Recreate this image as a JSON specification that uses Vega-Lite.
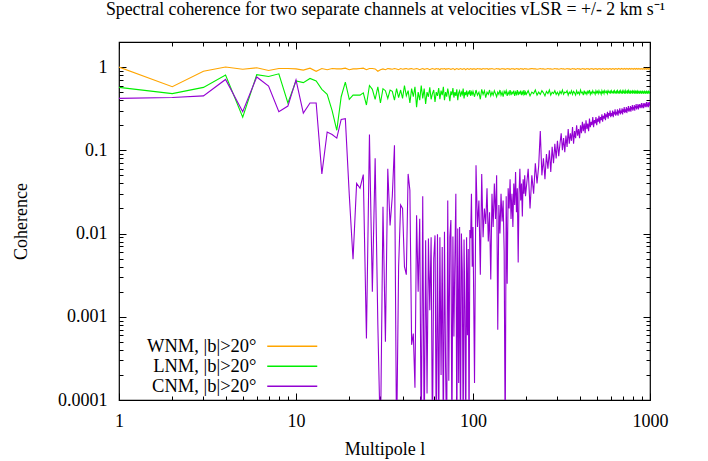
{
"$schema":"https://vega.github.io/schema/vega-lite/v6.json",
"width":531,"height":358,
"autosize":{"type":"none"},
"padding":{"left":119,"top":42,"right":58,"bottom":61},
"background":"white",
"title":{"text":"Spectral coherence for two separate channels at velocities vLSR = +/- 2 km s⁻¹","font":"Liberation Serif","fontSize":17.8,"fontWeight":"normal","color":"black","anchor":"middle","offset":14,"dx":1},
"config":{"view":{"stroke":"black","strokeWidth":1.2},"font":"Liberation Serif"},
"data":{"values":[
{"l":1,"W":1.0,"L":0.57,"C":0.42},
{"l":2,"W":0.58,"L":0.48,"C":0.43},
{"l":3,"W":0.89,"L":0.57,"C":0.45},
{"l":4,"W":1.0,"L":0.8,"C":0.71},
{"l":5,"W":0.94,"L":0.25,"C":0.29},
{"l":6,"W":0.98,"L":0.81,"C":0.76},
{"l":7,"W":0.91,"L":0.77,"C":0.59},
{"l":8,"W":0.96,"L":0.83,"C":0.29},
{"l":9,"W":0.96,"L":0.37,"C":0.34},
{"l":10,"W":0.95,"L":0.68,"C":0.7},
{"l":11,"W":0.92,"L":0.65,"C":0.28},
{"l":12,"W":0.97,"L":0.73,"C":0.37},
{"l":13,"W":0.89,"L":0.68,"C":0.37},
{"l":14,"W":0.96,"L":0.54,"C":0.052},
{"l":15,"W":0.93,"L":0.47,"C":0.166},
{"l":16,"W":0.96,"L":0.3,"C":0.155},
{"l":17,"W":0.95,"L":0.174,"C":0.14},
{"l":18,"W":0.95,"L":0.44,"C":0.235},
{"l":19,"W":0.97,"L":0.66,"C":0.24},
{"l":20,"W":0.93,"L":0.41,"C":0.029},
{"l":21,"W":0.95,"L":0.46,"C":0.0049},
{"l":22,"W":0.95,"L":0.46,"C":0.04},
{"l":23,"W":0.96,"L":0.46,"C":0.035},
{"l":24,"W":0.97,"L":0.49,"C":0.051},
{"l":25,"W":0.93,"L":0.35,"C":0.00055},
{"l":26,"W":0.96,"L":0.6,"C":0.155},
{"l":27,"W":0.96,"L":0.54,"C":0.002},
{"l":28,"W":0.95,"L":0.41,"C":0.08},
{"l":29,"W":0.89,"L":0.58,"C":0.0008},
{"l":30,"W":0.93,"L":0.37,"C":0.00003},
{"l":31,"W":0.95,"L":0.55,"C":0.021},
{"l":32,"W":0.93,"L":0.52,"C":0.0005},
{"l":33,"W":0.96,"L":0.42,"C":0.06},
{"l":34,"W":0.95,"L":0.53,"C":0.0125},
{"l":35,"W":0.94,"L":0.51,"C":0.028},
{"l":36,"W":0.96,"L":0.4,"C":0.115},
{"l":37,"W":0.95,"L":0.55,"C":0.00003},
{"l":38,"W":0.93,"L":0.43,"C":0.004},
{"l":39,"W":0.96,"L":0.53,"C":0.022},
{"l":40,"W":0.94,"L":0.42,"C":0.02},
{"l":41,"W":0.95,"L":0.6,"C":0.004},
{"l":42,"W":0.96,"L":0.45,"C":0.0032},
{"l":43,"W":0.94,"L":0.52,"C":0.052},
{"l":44,"W":0.95,"L":0.37,"C":0.033},
{"l":45,"W":0.96,"L":0.55,"C":0.00046},
{"l":46,"W":0.94,"L":0.44,"C":0.00063},
{"l":47,"W":0.95,"L":0.58,"C":0.00014},
{"l":48,"W":0.96,"L":0.33,"C":0.0166},
{"l":49,"W":0.95,"L":0.5,"C":0.002},
{"l":50,"W":0.93,"L":0.4,"C":0.015},
{"l":51,"W":0.95,"L":0.6,"C":0.00003},
{"l":52,"W":0.96,"L":0.42,"C":0.028},
{"l":53,"W":0.94,"L":0.55,"C":0.00003},
{"l":54,"W":0.95,"L":0.36,"C":0.0083},
{"l":55,"W":0.96,"L":0.5,"C":0.00012},
{"l":56,"W":0.95,"L":0.44,"C":0.0087},
{"l":57,"W":0.93,"L":0.57,"C":0.0012},
{"l":58,"W":0.95,"L":0.41,"C":0.009},
{"l":59,"W":0.96,"L":0.48,"C":0.00003},
{"l":60,"W":0.95,"L":0.53,"C":0.005},
{"l":61,"W":0.94,"L":0.38,"C":0.0095},
{"l":62,"W":0.96,"L":0.5,"C":0.00003},
{"l":63,"W":0.95,"L":0.45,"C":0.0098},
{"l":64,"W":0.95,"L":0.56,"C":0.00003},
{"l":65,"W":0.93,"L":0.41,"C":0.009},
{"l":66,"W":0.96,"L":0.52,"C":0.0002},
{"l":67,"W":0.95,"L":0.46,"C":0.0069},
{"l":68,"W":0.95,"L":0.58,"C":0.00003},
{"l":69,"W":0.96,"L":0.4,"C":0.0105},
{"l":70,"W":0.94,"L":0.5,"C":0.00025},
{"l":71,"W":0.95,"L":0.44,"C":0.00003},
{"l":72,"W":0.95,"L":0.55,"C":0.025},
{"l":73,"W":0.96,"L":0.47,"C":0.00017},
{"l":74,"W":0.95,"L":0.39,"C":0.009},
{"l":75,"W":0.94,"L":0.51,"C":0.0145},
{"l":76,"W":0.95,"L":0.46,"C":0.00003},
{"l":77,"W":0.96,"L":0.56,"C":0.0092},
{"l":78,"W":0.95,"L":0.43,"C":0.00058},
{"l":79,"W":0.93,"L":0.5,"C":0.005},
{"l":80,"W":0.95,"L":0.45,"C":0.03},
{"l":81,"W":0.96,"L":0.54,"C":0.00003},
{"l":82,"W":0.95,"L":0.4,"C":0.0115},
{"l":83,"W":0.94,"L":0.49,"C":0.00016},
{"l":84,"W":0.95,"L":0.52,"C":0.012},
{"l":85,"W":0.96,"L":0.44,"C":0.00003},
{"l":86,"W":0.95,"L":0.5,"C":0.01},
{"l":87,"W":0.94,"L":0.47,"C":0.0035},
{"l":88,"W":0.95,"L":0.55,"C":0.00003},
{"l":89,"W":0.96,"L":0.42,"C":0.0085},
{"l":90,"W":0.95,"L":0.5,"C":0.0012},
{"l":91,"W":0.93,"L":0.46,"C":0.00003},
{"l":92,"W":0.95,"L":0.52,"C":0.009},
{"l":93,"W":0.96,"L":0.44,"C":0.0006},
{"l":94,"W":0.95,"L":0.5,"C":0.0065},
{"l":95,"W":0.94,"L":0.48,"C":0.00003},
{"l":96,"W":0.95,"L":0.53,"C":0.011},
{"l":97,"W":0.96,"L":0.45,"C":0.0088},
{"l":98,"W":0.95,"L":0.5,"C":0.03},
{"l":99,"W":0.94,"L":0.47,"C":0.004},
{"l":100,"W":0.95,"L":0.51,"C":0.012},
{"l":102,"W":0.95,"L":0.44,"C":0.00016},
{"l":104,"W":0.94,"L":0.53,"C":0.066},
{"l":106,"W":0.96,"L":0.46,"C":0.012},
{"l":108,"W":0.95,"L":0.5,"C":0.025},
{"l":110,"W":0.95,"L":0.41,"C":0.0032},
{"l":112,"W":0.94,"L":0.54,"C":0.052},
{"l":114,"W":0.96,"L":0.47,"C":0.009},
{"l":116,"W":0.95,"L":0.52,"C":0.02},
{"l":118,"W":0.95,"L":0.43,"C":0.013},
{"l":120,"W":0.96,"L":0.5,"C":0.035},
{"l":122,"W":0.94,"L":0.47,"C":0.008},
{"l":124,"W":0.95,"L":0.53,"C":0.018},
{"l":126,"W":0.95,"L":0.45,"C":0.0028},
{"l":128,"W":0.96,"L":0.5,"C":0.03},
{"l":130,"W":0.95,"L":0.46,"C":0.012},
{"l":132,"W":0.94,"L":0.52,"C":0.04},
{"l":134,"W":0.95,"L":0.48,"C":0.015},
{"l":136,"W":0.96,"L":0.44,"C":0.05},
{"l":138,"W":0.95,"L":0.5,"C":0.0007},
{"l":140,"W":0.95,"L":0.47,"C":0.022},
{"l":142,"W":0.94,"L":0.53,"C":0.01},
{"l":144,"W":0.95,"L":0.46,"C":0.03},
{"l":146,"W":0.96,"L":0.5,"C":0.014},
{"l":148,"W":0.95,"L":0.44,"C":0.025},
{"l":150,"W":0.95,"L":0.51,"C":0.006},
{"l":152,"W":0.94,"L":0.48,"C":0.00003},
{"l":154,"W":0.95,"L":0.52,"C":0.028},
{"l":156,"W":0.96,"L":0.45,"C":0.0025},
{"l":158,"W":0.95,"L":0.5,"C":0.035},
{"l":160,"W":0.95,"L":0.47,"C":0.02},
{"l":162,"W":0.94,"L":0.53,"C":0.045},
{"l":164,"W":0.95,"L":0.46,"C":0.015},
{"l":166,"W":0.96,"L":0.5,"C":0.03},
{"l":168,"W":0.95,"L":0.48,"C":0.012},
{"l":170,"W":0.95,"L":0.52,"C":0.04},
{"l":172,"W":0.94,"L":0.45,"C":0.022},
{"l":174,"W":0.95,"L":0.5,"C":0.055},
{"l":176,"W":0.96,"L":0.47,"C":0.018},
{"l":178,"W":0.95,"L":0.53,"C":0.035},
{"l":180,"W":0.95,"L":0.46,"C":0.0045},
{"l":182,"W":0.94,"L":0.5,"C":0.03},
{"l":184,"W":0.95,"L":0.48,"C":0.06},
{"l":186,"W":0.96,"L":0.52,"C":0.025},
{"l":188,"W":0.95,"L":0.46,"C":0.04},
{"l":190,"W":0.95,"L":0.5,"C":0.016},
{"l":192,"W":0.94,"L":0.47,"C":0.045},
{"l":194,"W":0.95,"L":0.53,"C":0.03},
{"l":196,"W":0.96,"L":0.46,"C":0.05},
{"l":198,"W":0.95,"L":0.5,"C":0.028},
{"l":200,"W":0.95,"L":0.47,"C":0.035},
{"l":205,"W":0.94,"L":0.52,"C":0.06},
{"l":210,"W":0.95,"L":0.45,"C":0.02},
{"l":215,"W":0.96,"L":0.5,"C":0.05},
{"l":220,"W":0.95,"L":0.48,"C":0.03},
{"l":225,"W":0.95,"L":0.53,"C":0.07},
{"l":230,"W":0.94,"L":0.46,"C":0.04},
{"l":235,"W":0.95,"L":0.5,"C":0.065},
{"l":240,"W":0.96,"L":0.47,"C":0.17},
{"l":245,"W":0.95,"L":0.52,"C":0.05},
{"l":250,"W":0.95,"L":0.49,"C":0.08},
{"l":255,"W":0.94,"L":0.45,"C":0.045},
{"l":260,"W":0.95,"L":0.51,"C":0.09},
{"l":265,"W":0.96,"L":0.48,"C":0.06},
{"l":270,"W":0.95,"L":0.53,"C":0.1},
{"l":275,"W":0.95,"L":0.46,"C":0.055},
{"l":280,"W":0.94,"L":0.5,"C":0.11},
{"l":285,"W":0.95,"L":0.48,"C":0.07},
{"l":290,"W":0.96,"L":0.52,"C":0.12},
{"l":295,"W":0.95,"L":0.47,"C":0.08},
{"l":300,"W":0.95,"L":0.5,"C":0.13},
{"l":305,"W":0.94,"L":0.46,"C":0.085},
{"l":310,"W":0.95,"L":0.51,"C":0.12},
{"l":315,"W":0.96,"L":0.48,"C":0.16},
{"l":320,"W":0.95,"L":0.53,"C":0.1},
{"l":325,"W":0.95,"L":0.47,"C":0.14},
{"l":330,"W":0.94,"L":0.5,"C":0.095},
{"l":335,"W":0.95,"L":0.49,"C":0.15},
{"l":340,"W":0.96,"L":0.52,"C":0.11},
{"l":345,"W":0.95,"L":0.46,"C":0.18},
{"l":350,"W":0.95,"L":0.5,"C":0.12},
{"l":355,"W":0.94,"L":0.48,"C":0.16},
{"l":360,"W":0.95,"L":0.52,"C":0.13},
{"l":365,"W":0.96,"L":0.47,"C":0.19},
{"l":370,"W":0.95,"L":0.51,"C":0.12},
{"l":375,"W":0.95,"L":0.49,"C":0.17},
{"l":380,"W":0.94,"L":0.46,"C":0.14},
{"l":385,"W":0.95,"L":0.52,"C":0.2},
{"l":390,"W":0.96,"L":0.48,"C":0.15},
{"l":395,"W":0.95,"L":0.5,"C":0.18},
{"l":400,"W":0.95,"L":0.47,"C":0.14},
{"l":405,"W":0.94,"L":0.53,"C":0.2},
{"l":410,"W":0.95,"L":0.49,"C":0.16},
{"l":415,"W":0.96,"L":0.5,"C":0.22},
{"l":420,"W":0.95,"L":0.46,"C":0.17},
{"l":425,"W":0.95,"L":0.52,"C":0.21},
{"l":430,"W":0.94,"L":0.48,"C":0.16},
{"l":435,"W":0.95,"L":0.5,"C":0.23},
{"l":440,"W":0.96,"L":0.47,"C":0.18},
{"l":445,"W":0.95,"L":0.51,"C":0.21},
{"l":450,"W":0.95,"L":0.49,"C":0.17},
{"l":455,"W":0.94,"L":0.53,"C":0.24},
{"l":460,"W":0.95,"L":0.47,"C":0.19},
{"l":465,"W":0.96,"L":0.5,"C":0.22},
{"l":470,"W":0.95,"L":0.48,"C":0.2},
{"l":475,"W":0.95,"L":0.52,"C":0.25},
{"l":480,"W":0.94,"L":0.49,"C":0.19},
{"l":485,"W":0.95,"L":0.5,"C":0.23},
{"l":490,"W":0.96,"L":0.47,"C":0.21},
{"l":495,"W":0.95,"L":0.52,"C":0.25},
{"l":500,"W":0.95,"L":0.49,"C":0.2},
{"l":505,"W":0.94,"L":0.51,"C":0.24},
{"l":510,"W":0.95,"L":0.48,"C":0.22},
{"l":515,"W":0.96,"L":0.52,"C":0.26},
{"l":520,"W":0.95,"L":0.49,"C":0.21},
{"l":525,"W":0.95,"L":0.5,"C":0.25},
{"l":530,"W":0.94,"L":0.47,"C":0.23},
{"l":535,"W":0.95,"L":0.52,"C":0.27},
{"l":540,"W":0.96,"L":0.49,"C":0.22},
{"l":545,"W":0.95,"L":0.51,"C":0.26},
{"l":550,"W":0.95,"L":0.48,"C":0.24},
{"l":555,"W":0.94,"L":0.52,"C":0.28},
{"l":560,"W":0.95,"L":0.5,"C":0.23},
{"l":565,"W":0.96,"L":0.49,"C":0.27},
{"l":570,"W":0.95,"L":0.51,"C":0.25},
{"l":575,"W":0.95,"L":0.48,"C":0.29},
{"l":580,"W":0.94,"L":0.52,"C":0.24},
{"l":585,"W":0.95,"L":0.5,"C":0.28},
{"l":590,"W":0.96,"L":0.49,"C":0.26},
{"l":595,"W":0.95,"L":0.51,"C":0.3},
{"l":600,"W":0.95,"L":0.48,"C":0.25},
{"l":605,"W":0.94,"L":0.52,"C":0.28},
{"l":610,"W":0.95,"L":0.5,"C":0.26},
{"l":615,"W":0.96,"L":0.49,"C":0.3},
{"l":620,"W":0.95,"L":0.51,"C":0.25},
{"l":625,"W":0.95,"L":0.48,"C":0.29},
{"l":630,"W":0.94,"L":0.52,"C":0.27},
{"l":635,"W":0.95,"L":0.5,"C":0.31},
{"l":640,"W":0.96,"L":0.49,"C":0.26},
{"l":645,"W":0.95,"L":0.51,"C":0.29},
{"l":650,"W":0.95,"L":0.48,"C":0.27},
{"l":655,"W":0.94,"L":0.52,"C":0.31},
{"l":660,"W":0.95,"L":0.5,"C":0.26},
{"l":665,"W":0.96,"L":0.49,"C":0.3},
{"l":670,"W":0.95,"L":0.51,"C":0.28},
{"l":675,"W":0.95,"L":0.48,"C":0.32},
{"l":680,"W":0.94,"L":0.52,"C":0.27},
{"l":685,"W":0.95,"L":0.5,"C":0.3},
{"l":690,"W":0.96,"L":0.49,"C":0.28},
{"l":695,"W":0.95,"L":0.51,"C":0.32},
{"l":700,"W":0.95,"L":0.48,"C":0.27},
{"l":705,"W":0.94,"L":0.52,"C":0.31},
{"l":710,"W":0.95,"L":0.5,"C":0.29},
{"l":715,"W":0.96,"L":0.49,"C":0.33},
{"l":720,"W":0.95,"L":0.51,"C":0.28},
{"l":725,"W":0.95,"L":0.48,"C":0.31},
{"l":730,"W":0.94,"L":0.52,"C":0.29},
{"l":735,"W":0.95,"L":0.5,"C":0.33},
{"l":740,"W":0.96,"L":0.49,"C":0.28},
{"l":745,"W":0.95,"L":0.51,"C":0.32},
{"l":750,"W":0.95,"L":0.48,"C":0.3},
{"l":755,"W":0.94,"L":0.52,"C":0.34},
{"l":760,"W":0.95,"L":0.5,"C":0.29},
{"l":765,"W":0.96,"L":0.49,"C":0.32},
{"l":770,"W":0.95,"L":0.51,"C":0.3},
{"l":775,"W":0.95,"L":0.48,"C":0.34},
{"l":780,"W":0.94,"L":0.52,"C":0.29},
{"l":785,"W":0.95,"L":0.5,"C":0.33},
{"l":790,"W":0.96,"L":0.49,"C":0.31},
{"l":795,"W":0.95,"L":0.51,"C":0.35},
{"l":800,"W":0.95,"L":0.48,"C":0.3},
{"l":805,"W":0.94,"L":0.52,"C":0.33},
{"l":810,"W":0.95,"L":0.5,"C":0.31},
{"l":815,"W":0.96,"L":0.49,"C":0.35},
{"l":820,"W":0.95,"L":0.51,"C":0.3},
{"l":825,"W":0.95,"L":0.48,"C":0.34},
{"l":830,"W":0.94,"L":0.52,"C":0.32},
{"l":835,"W":0.95,"L":0.5,"C":0.36},
{"l":840,"W":0.96,"L":0.49,"C":0.31},
{"l":845,"W":0.95,"L":0.51,"C":0.34},
{"l":850,"W":0.95,"L":0.48,"C":0.32},
{"l":855,"W":0.94,"L":0.52,"C":0.36},
{"l":860,"W":0.95,"L":0.5,"C":0.31},
{"l":865,"W":0.96,"L":0.49,"C":0.35},
{"l":870,"W":0.95,"L":0.51,"C":0.33},
{"l":875,"W":0.95,"L":0.48,"C":0.36},
{"l":880,"W":0.94,"L":0.52,"C":0.32},
{"l":885,"W":0.95,"L":0.5,"C":0.35},
{"l":890,"W":0.96,"L":0.49,"C":0.33},
{"l":895,"W":0.95,"L":0.51,"C":0.37},
{"l":900,"W":0.95,"L":0.48,"C":0.32},
{"l":905,"W":0.94,"L":0.52,"C":0.35},
{"l":910,"W":0.95,"L":0.5,"C":0.33},
{"l":915,"W":0.96,"L":0.49,"C":0.37},
{"l":920,"W":0.95,"L":0.51,"C":0.32},
{"l":925,"W":0.95,"L":0.48,"C":0.36},
{"l":930,"W":0.94,"L":0.52,"C":0.34},
{"l":935,"W":0.95,"L":0.5,"C":0.37},
{"l":940,"W":0.96,"L":0.49,"C":0.33},
{"l":945,"W":0.95,"L":0.51,"C":0.36},
{"l":950,"W":0.95,"L":0.48,"C":0.34},
{"l":955,"W":0.94,"L":0.52,"C":0.38},
{"l":960,"W":0.95,"L":0.5,"C":0.33},
{"l":965,"W":0.96,"L":0.49,"C":0.36},
{"l":970,"W":0.95,"L":0.51,"C":0.34},
{"l":975,"W":0.95,"L":0.48,"C":0.38},
{"l":980,"W":0.94,"L":0.52,"C":0.33},
{"l":985,"W":0.95,"L":0.5,"C":0.37},
{"l":990,"W":0.96,"L":0.49,"C":0.35},
{"l":995,"W":0.95,"L":0.51,"C":0.38},
{"l":1000,"W":0.95,"L":0.48,"C":0.34}
]},
"transform":[{"fold":["W","L","C"],"as":["s","v"]}],
"resolve":{"axis":{"x":"independent","y":"independent"}},
"layer":[
{"mark":{"type":"line","strokeWidth":1.1,"clip":true},
"encoding":{
"x":{"field":"l","type":"quantitative","scale":{"type":"log","domain":[1,1000],"nice":false},
"axis":{"orient":"bottom","values":[1,2,3,4,5,6,7,8,9,10,20,30,40,50,60,70,80,90,100,200,300,400,500,600,700,800,900,1000],"format":"~g","labelExpr":"abs(log(datum.value)/LN10 - round(log(datum.value)/LN10)) < 0.01 ? datum.label : ''","labelFont":"Liberation Serif","labelFontSize":18,"labelColor":"black","labelPadding":19,"labelOverlap":false,"labelFlush":false,"labelBound":false,"domain":false,"grid":false,"tickColor":"black","tickWidth":1,"tickSize":{"condition":{"test":"abs(log(datum.value)/LN10 - round(log(datum.value)/LN10)) < 0.01","value":-7},"value":-4},"title":"Multipole l","titleFont":"Liberation Serif","titleFontSize":18,"titleFontWeight":"normal","titleColor":"black","titlePadding":7}},
"y":{"field":"v","type":"quantitative","scale":{"type":"log","domain":[0.0001,2],"nice":false},
"axis":{"orient":"left","values":[0.0001,0.0002,0.0003,0.0004,0.0005,0.0006,0.0007,0.0008,0.0009,0.001,0.002,0.003,0.004,0.005,0.006,0.007,0.008,0.009,0.01,0.02,0.03,0.04,0.05,0.06,0.07,0.08,0.09,0.1,0.2,0.3,0.4,0.5,0.6,0.7,0.8,0.9,1,2],"format":"~g","labelExpr":"abs(log(datum.value)/LN10 - round(log(datum.value)/LN10)) < 0.01 ? datum.label : ''","labelFont":"Liberation Serif","labelFontSize":18,"labelColor":"black","labelPadding":19,"labelOverlap":false,"labelFlush":false,"labelBound":false,"domain":false,"grid":false,"tickColor":"black","tickWidth":1,"tickSize":{"condition":{"test":"abs(log(datum.value)/LN10 - round(log(datum.value)/LN10)) < 0.01","value":-7},"value":-4},"title":"Coherence","titleFont":"Liberation Serif","titleFontSize":18,"titleFontWeight":"normal","titleColor":"black","titlePadding":27}},
"color":{"field":"s","type":"nominal","scale":{"domain":["W","L","C"],"range":["#ffa500","#00ee00","#9400d3"]},
"legend":{"orient":"none","legendX":164,"legendY":295,"title":null,"symbolType":"M-5,0H5","symbolSize":100,"symbolStrokeWidth":1.5,"labelAlign":"right","labelOffset":-45,"labelFont":"Liberation Serif","labelFontSize":18.5,"labelColor":"black","labelLimit":300,"rowPadding":1,"padding":0,"labelExpr":"datum.value == 'W' ? 'WNM, |b|>20°' : datum.value == 'L' ? 'LNM, |b|>20°' : 'CNM, |b|>20°'"}}
}},
{"mark":{"type":"line","opacity":0,"clip":true},
"encoding":{
"x":{"field":"l","type":"quantitative","axis":{"orient":"top","values":[1,2,3,4,5,6,7,8,9,10,20,30,40,50,60,70,80,90,100,200,300,400,500,600,700,800,900,1000],"labels":false,"domain":false,"grid":false,"tickColor":"black","tickWidth":1,"tickSize":{"condition":{"test":"abs(log(datum.value)/LN10 - round(log(datum.value)/LN10)) < 0.01","value":-7},"value":-4},"title":null}},
"y":{"field":"v","type":"quantitative","axis":{"orient":"right","values":[0.0001,0.0002,0.0003,0.0004,0.0005,0.0006,0.0007,0.0008,0.0009,0.001,0.002,0.003,0.004,0.005,0.006,0.007,0.008,0.009,0.01,0.02,0.03,0.04,0.05,0.06,0.07,0.08,0.09,0.1,0.2,0.3,0.4,0.5,0.6,0.7,0.8,0.9,1,2],"labels":false,"domain":false,"grid":false,"tickColor":"black","tickWidth":1,"tickSize":{"condition":{"test":"abs(log(datum.value)/LN10 - round(log(datum.value)/LN10)) < 0.01","value":-7},"value":-4},"title":null}},
"detail":{"field":"s","type":"nominal"}
}}
]
}
